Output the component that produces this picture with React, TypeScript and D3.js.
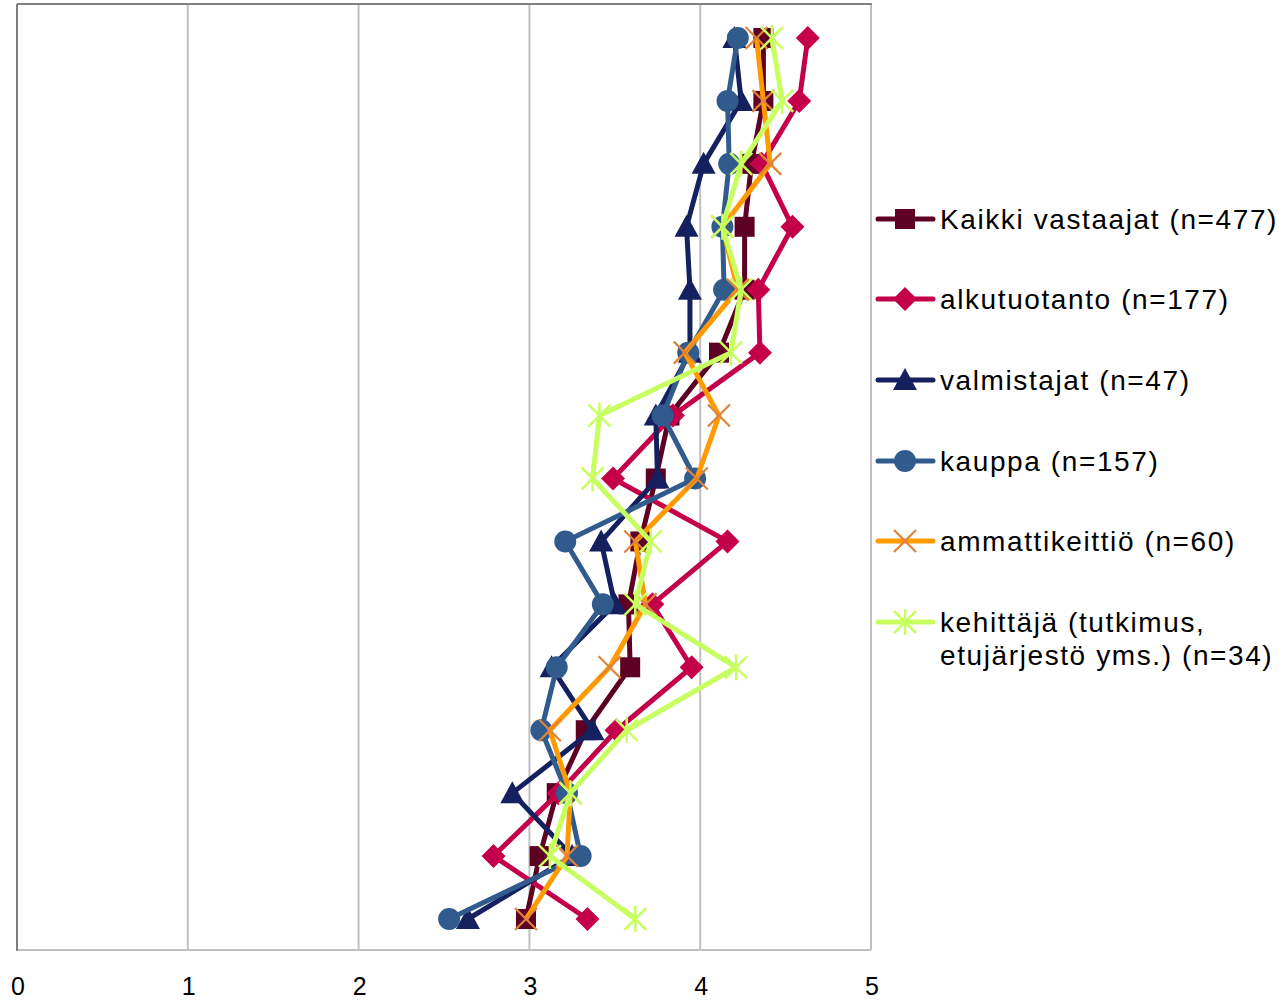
import React from "react";
import * as d3 from "d3";

const rows = ["1","2","3","4","5","6","7","8","9","10","11","12","13","14","15"];
const xTicks = [0, 1, 2, 3, 4, 5];

const kaikki = [4.37, 4.37, 4.30, 4.26, 4.26, 4.11, 3.82, 3.74, 3.65, 3.58, 3.59, 3.33, 3.16, 3.06, 2.98];
const alkutuotanto = [4.63, 4.58, 4.36, 4.54, 4.34, 4.35, 3.84, 3.49, 4.16, 3.72, 3.95, 3.51, 3.17, 2.79, 3.34];
const valmistajat = [4.20, 4.24, 4.02, 3.92, 3.94, 3.94, 3.74, 3.75, 3.42, 3.50, 3.13, 3.37, 2.90, 3.25, 2.64];
const kauppa = [4.22, 4.16, 4.17, 4.13, 4.14, 3.93, 3.78, 3.97, 3.21, 3.43, 3.16, 3.07, 3.22, 3.30, 2.53];
const ammattikeittio = [4.33, 4.37, 4.41, 4.13, 4.22, 3.91, 4.11, 3.98, 3.62, 3.68, 3.47, 3.12, 3.24, 3.22, 2.98];
const kehittaja = [4.42, 4.48, 4.24, 4.13, 4.24, 4.18, 3.41, 3.37, 3.71, 3.62, 4.21, 3.57, 3.24, 3.12, 3.62];

type Marker = "square" | "diamond" | "triangle" | "circle" | "x" | "star";
interface Series { name: string[]; values: number[]; color: string; markerColor: string; marker: Marker; }

const series: Series[] = [
  { name: ["Kaikki vastaajat (n=477)"], values: kaikki, color: "#5E0023", markerColor: "#5E0023", marker: "square" },
  { name: ["alkutuotanto (n=177)"], values: alkutuotanto, color: "#C30049", markerColor: "#C30049", marker: "diamond" },
  { name: ["valmistajat (n=47)"], values: valmistajat, color: "#15205F", markerColor: "#15205F", marker: "triangle" },
  { name: ["kauppa (n=157)"], values: kauppa, color: "#315B8D", markerColor: "#315B8D", marker: "circle" },
  { name: ["ammattikeittiö (n=60)"], values: ammattikeittio, color: "#FF9A00", markerColor: "#E0823A", marker: "x" },
  { name: ["kehittäjä (tutkimus,", "etujärjestö yms.) (n=34)"], values: kehittaja, color: "#C8FF60", markerColor: "#C8FF60", marker: "star" },
];

function MarkerShape({ type, x, y, color }: { type: Marker; x: number; y: number; color: string }) {
  switch (type) {
    case "square":
      return <rect x={x - 10} y={y - 10} width={20} height={20} fill={color} />;
    case "diamond":
      return <path d={`M${x},${y - 12}L${x + 12},${y}L${x},${y + 12}L${x - 12},${y}Z`} fill={color} />;
    case "triangle":
      return <path d={`M${x},${y - 12}L${x + 12},${y + 10}L${x - 12},${y + 10}Z`} fill={color} />;
    case "circle":
      return <circle cx={x} cy={y} r={11} fill={color} />;
    case "x":
      return <path d={`M${x - 11},${y - 11}L${x + 11},${y + 11}M${x + 11},${y - 11}L${x - 11},${y + 11}`} stroke={color} strokeWidth={2.2} fill="none" />;
    case "star":
      return <path d={`M${x - 11},${y - 11}L${x + 11},${y + 11}M${x + 11},${y - 11}L${x - 11},${y + 11}M${x},${y - 13}L${x},${y + 13}`} stroke={color} strokeWidth={2.5} fill="none" />;
  }
}

export default function App() {
  const W = 1285, H = 1002;
  const left = 17, right = 871, top = 4, bottom = 950;
  const x = d3.scaleLinear().domain([0, 5]).range([left, right]);
  const y = d3.scalePoint<string>().domain(rows).range([38, 919]);
  const line = d3.line<number>().x((d) => x(d)).y((_, i) => y(rows[i]) as number);
  const font = "'Liberation Sans', Arial, sans-serif";
  const legendY = [219, 299, 380, 461, 541, 622];

  return (
    <svg width={W} height={H} style={{ position: "absolute", left: 0, top: 0, background: "#fff" }} fontFamily={font}>
      {xTicks.map((t) => (
        <line key={"g" + t} x1={x(t)} x2={x(t)} y1={top} y2={bottom} stroke="#C0C0C0" strokeWidth={2} />
      ))}
      <line x1={left} x2={right} y1={bottom} y2={bottom} stroke="#C0C0C0" strokeWidth={2} />
      <line x1={left} x2={right + 1} y1={top} y2={top} stroke="#808080" strokeWidth={2} />
      <line x1={left} x2={left} y1={top} y2={bottom + 1} stroke="#808080" strokeWidth={2} />
      {xTicks.map((t) => (
        <text key={"t" + t} x={x(t) + 1} y={995} textAnchor="middle" fontSize={25} fill="#000">{t}</text>
      ))}
      {series.map((s, si) => (
        <g key={"s" + si}>
          <path d={line(s.values) || ""} fill="none" stroke={s.color} strokeWidth={5} strokeLinejoin="round" />
          {s.values.map((v, i) => (
            <MarkerShape key={i} type={s.marker} x={x(v)} y={y(rows[i]) as number} color={s.markerColor} />
          ))}
        </g>
      ))}
      {series.map((s, si) => (
        <g key={"l" + si}>
          <line x1={878} x2={933} y1={legendY[si]} y2={legendY[si]} stroke={s.color} strokeWidth={5} strokeLinecap="round" />
          <MarkerShape type={s.marker} x={905} y={legendY[si]} color={s.markerColor} />
          {s.name.map((n, k) => (
            <text key={k} x={940} y={legendY[si] + 10 + k * 33} fontSize={28} letterSpacing={1.6} fill="#000">{n}</text>
          ))}
        </g>
      ))}
    </svg>
  );
}
